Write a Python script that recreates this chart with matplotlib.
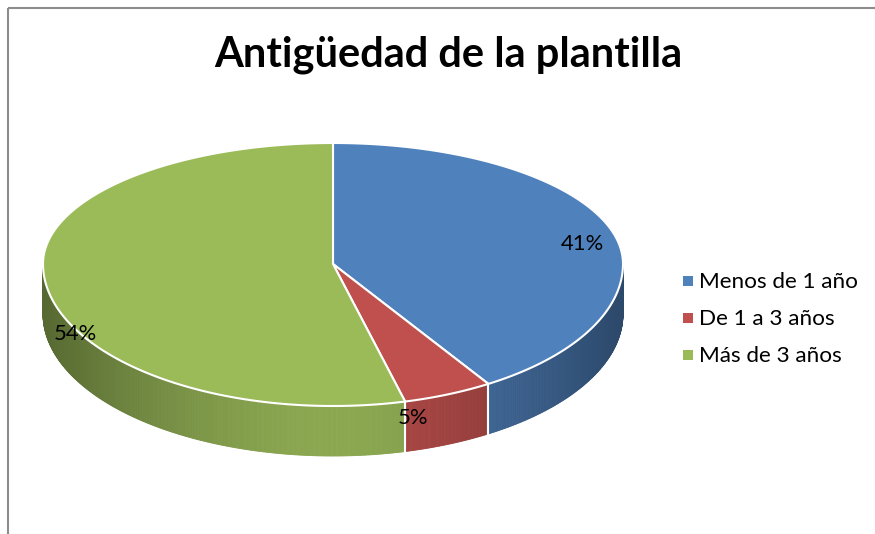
import numpy as np
import matplotlib
matplotlib.use("Agg")
import matplotlib.pyplot as plt
from matplotlib.patches import Polygon, Rectangle

# data
labels = ["Menos de 1 año", "De 1 a 3 años", "Más de 3 años"]
values = [41, 5, 54]
colors = ["#4f81bd", "#c0504d", "#9bbb59"]
title = "Antigüedad de la plantilla"

# geometry of the tilted pie, in pixels (front half looks taller: perspective)
cx, cy = 333, 264
rx = 290
ry_back, ry_front = 121, 142
depth = 50

plt.rcParams["font.family"] = ["Lato", "DejaVu Sans"]

fig = plt.figure(figsize=(8.75, 5.34), dpi=100)
ax = fig.add_axes([0, 0, 1, 1])
ax.set_xlim(0, 875)
ax.set_ylim(534, 0)
ax.axis("off")

# chart frame (right and bottom edges fall outside the image)
ax.add_patch(Rectangle((8, 8), 900, 560, fill=False, edgecolor="#8c8c8c", lw=1.5))


def pt(theta, dy=0):
    # theta in degrees, clockwise from 12 o'clock
    t = np.radians(theta)
    c = np.cos(t)
    ry = ry_back if c > 0 else ry_front
    return cx + rx * np.sin(t), cy - ry * c + dy


def shade(theta):
    s = abs(np.sin(np.radians(theta)))
    return 0.9 - 0.34 * s ** 1.6


total = sum(values)
bounds = np.concatenate([[0], np.cumsum(values) / total * 360])

# side walls (only the front half is visible)
for i, col in enumerate(colors):
    a0, a1 = max(bounds[i], 90), min(bounds[i + 1], 270)
    if a1 <= a0:
        continue
    rgb = np.array(matplotlib.colors.to_rgb(col))
    steps = np.linspace(a0, a1, max(int(a1 - a0) * 3, 4))
    for t0, t1 in zip(steps[:-1], steps[1:]):
        quad = [pt(t0), pt(t1), pt(t1, depth), pt(t0, depth)]
        c = np.clip(rgb * shade((t0 + t1) / 2), 0, 1)
        ax.add_patch(Polygon(quad, closed=True, facecolor=c, edgecolor=c, lw=0.6))

# white seams on the side where slices meet
for b in bounds:
    if 90 < b < 270:
        x0, y0 = pt(b)
        ax.plot([x0, x0], [y0, y0 + depth], color="white", lw=1.5)

# top faces
for i, col in enumerate(colors):
    arc = np.linspace(bounds[i], bounds[i + 1], 200)
    verts = [(cx, cy)] + [pt(t) for t in arc]
    ax.add_patch(Polygon(verts, closed=True, facecolor=col, edgecolor="white",
                         lw=1.5, joinstyle="round"))

# percent labels
label_pos = [(582, 250), (413, 424), (75, 340)]
for v, (x, y) in zip(values, label_pos):
    ax.text(x, y, f"{v}%", ha="center", va="baseline", fontsize=15.8, color="black")

# title
ax.text(448, 66, title, ha="center", va="baseline", fontsize=30, fontweight="bold")

# legend
for k, (lab, col) in enumerate(zip(labels, colors)):
    y = 281 + 37 * k
    ax.add_patch(Rectangle((683, y - 5), 10, 10, facecolor=col, edgecolor="none"))
    ax.text(699, y + 7, lab, ha="left", va="baseline", fontsize=16.2)

fig.savefig("out.png", dpi=100)
